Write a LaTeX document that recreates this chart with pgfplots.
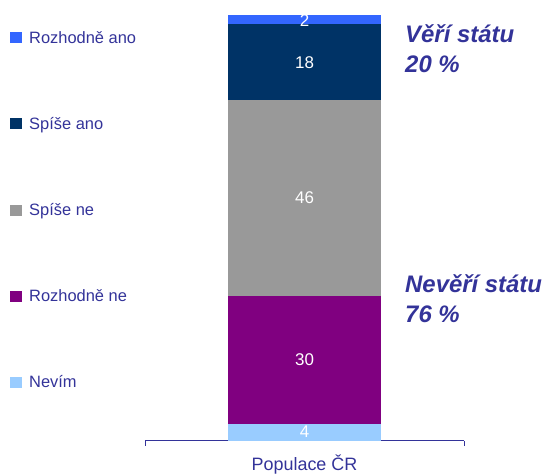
\documentclass[border=0pt]{standalone}
\usepackage{pgfplots}
\pgfplotsset{compat=1.18}
\usepackage{fontspec}
\setmainfont{Liberation Sans}
\definecolor{cRA}{HTML}{3366FF}
\definecolor{cSA}{HTML}{003366}
\definecolor{cSN}{HTML}{999999}
\definecolor{cRN}{HTML}{800080}
\definecolor{cNV}{HTML}{99CCFF}
\definecolor{txt}{HTML}{333399}
\begin{document}
\begin{tikzpicture}[x=1bp,y=1bp]
\useasboundingbox (0,0) rectangle (555,475);
\begin{axis}[
  at={(145bp,34bp)}, anchor=south west,
  scale only axis, width=319bp, height=426bp,
  xmin=0, xmax=1, ymin=0, ymax=100,
  ybar stacked, bar width=153bp,
  axis x line=bottom, axis y line=none,
  x axis line style={-, draw=txt, line width=1pt},
  xtick={0,1}, xticklabels={,},
  xtick align=outside, major tick length=5bp,
  xtick style={draw=txt, line width=1pt},
  xlabel={Populace ČR},
  xlabel style={at={(axis description cs:0.5,0)}, anchor=base, yshift=-30bp, font=\fontsize{18}{20}\selectfont, text=txt},
  clip=false,
  reverse legend,
  legend cell align=left,
  legend image code/.code={\fill[#1] (0bp,-5.5bp) rectangle (11.5bp,5.5bp); \path (17bp,0bp);},
  legend style={at={(-0.4232,0.9671)}, anchor=north west, draw=none, fill=none,
    inner sep=0pt, row sep=68.5bp, font=\fontsize{16.5}{18}\selectfont, text=txt,
    nodes={inner sep=2bp}},
]
\addplot[fill=cNV, draw=none] coordinates {(0.5,4)};
\addlegendentry{Nevím}
\addplot[fill=cRN, draw=none] coordinates {(0.5,30)};
\addlegendentry{Rozhodně ne}
\addplot[fill=cSN, draw=none] coordinates {(0.5,46)};
\addlegendentry{Spíše ne}
\addplot[fill=cSA, draw=none] coordinates {(0.5,18)};
\addlegendentry{Spíše ano}
\addplot[fill=cRA, draw=none] coordinates {(0.5,2)};
\addlegendentry{Rozhodně ano}
\end{axis}
\begin{axis}[
  at={(145bp,34bp)}, anchor=south west,
  scale only axis, width=319bp, height=426bp,
  xmin=0, xmax=1, ymin=0, ymax=100,
  hide axis, clip=false,
]
\addplot[draw=none, mark=none, nodes near coords, point meta=explicit symbolic,
  every node near coord/.style={anchor=center, text=white, font=\fontsize{17}{18}\selectfont}]
  coordinates {(0.5,2.2) [4] (0.5,19) [30] (0.5,57) [46] (0.5,88.7) [18] (0.5,98.7) [2]};
\end{axis}
\begin{scope}[every node/.style={anchor=base west, inner sep=0pt, text=txt, font=\fontsize{24}{26}\selectfont\bfseries\itshape}]
\node at (405,432) {Věří státu};
\node at (405,402) {20 \%};
\node at (405,182) {Nevěří státu};
\node at (405,152) {76 \%};
\end{scope}
\end{tikzpicture}
\end{document}
